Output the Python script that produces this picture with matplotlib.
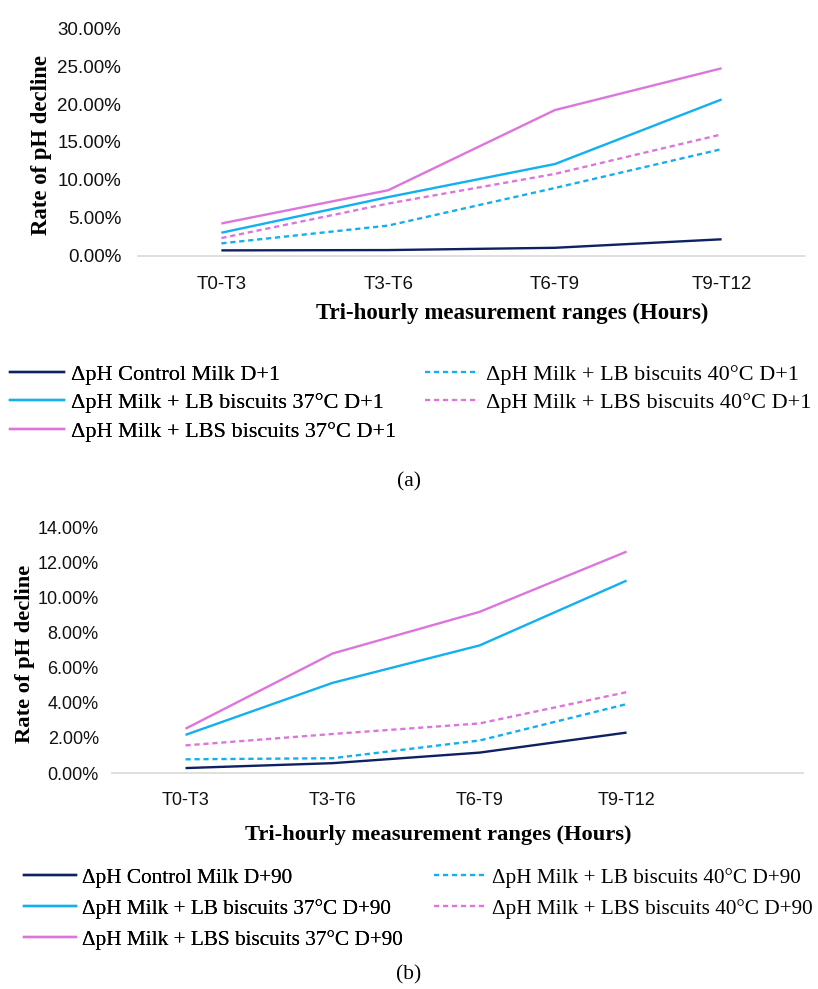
import matplotlib
matplotlib.use("Agg")
import matplotlib.pyplot as plt
from matplotlib.lines import Line2D
from matplotlib.ticker import PercentFormatter, MultipleLocator

# Category labels (tri-hourly ranges)
ranges = ["T0-T3", "T3-T6", "T6-T9", "T9-T12"]

# Panel (a) D+1, rate of pH decline in %
a_control = [0.74, 0.78, 1.08, 2.20]
a_lb37 = [3.06, 7.75, 12.10, 20.60]
a_lbs37 = [4.28, 8.65, 19.20, 24.70]
a_lb40 = [1.66, 4.00, 8.95, 14.06]
a_lbs40 = [2.36, 6.90, 10.80, 16.00]

# Panel (b) D+90, rate of pH decline in %
b_control = [0.28, 0.56, 1.16, 2.30]
b_lb37 = [2.17, 5.13, 7.26, 10.95]
b_lbs37 = [2.52, 6.80, 9.17, 12.60]
b_lb40 = [0.78, 0.84, 1.85, 3.92]
b_lbs40 = [1.57, 2.22, 2.82, 4.60]

NAVY = "#0E2162"
CYAN = "#12B0EE"
PINK = "#DC76DC"
AXIS_GRAY = "#D9D9D9"
DASH = (0, (2.2, 1.6))

SANS = "Liberation Sans"
SERIF = "Liberation Serif"

W, H = 818, 989
fig = plt.figure(figsize=(W / 100, H / 100), dpi=100)


# Convert pixel box to figure fraction
def px_axes(left, right, top, bottom):
    return fig.add_axes([left / W, 1 - bottom / H, (right - left) / W, (bottom - top) / H])


def draw_panel(ax, series, ymax, ystep, xmax, ypad, xpad, fsize):
    x = list(range(len(ranges)))
    for vals, color, style in series:
        ax.plot(x, vals, color=color, lw=1.7, linestyle=style, solid_capstyle="butt")
    ax.set_xlim(-0.5, xmax)
    ax.set_ylim(0, ymax)
    ax.yaxis.set_major_locator(MultipleLocator(ystep))
    ax.yaxis.set_major_formatter(PercentFormatter(decimals=2))
    ax.set_xticks(x)
    ax.set_xticklabels(ranges)
    for s in ["top", "right", "left"]:
        ax.spines[s].set_visible(False)
    ax.spines["bottom"].set_color(AXIS_GRAY)
    ax.spines["bottom"].set_linewidth(1.2)
    ax.tick_params(length=0, labelsize=fsize, labelcolor="#111111")
    ax.tick_params(axis="y", pad=ypad)
    ax.tick_params(axis="x", pad=xpad)
    for lab in ax.get_xticklabels() + ax.get_yticklabels():
        lab.set_fontfamily(SANS)


def make_legends(labels, y_top, col1_x, col2_x, fsize, spacing):
    styles = [(NAVY, "-"), (CYAN, "-"), (PINK, "-"), (CYAN, DASH), (PINK, DASH)]
    handles = [Line2D([], [], color=c, lw=1.7, linestyle=ls) for c, ls in styles]
    kw = dict(frameon=False, prop={"family": SERIF, "size": fsize}, handlelength=2.45,
              handletextpad=0.3, labelspacing=spacing, borderpad=0, borderaxespad=0,
              loc="upper left")
    leg1 = fig.legend(handles[:3], labels[:3], bbox_to_anchor=(col1_x / W, 1 - y_top / H), **kw)
    fig.add_artist(leg1)
    fig.legend(handles[3:], labels[3:], bbox_to_anchor=(col2_x / W, 1 - y_top / H), **kw)


# ---- Panel (a) ----
ax_a = px_axes(138, 805, 28, 256)
draw_panel(ax_a, [(a_control, NAVY, "-"), (a_lb37, CYAN, "-"), (a_lbs37, PINK, "-"),
                  (a_lb40, CYAN, DASH), (a_lbs40, PINK, DASH)],
           30, 5, 3.5, 12, 14.5, 13.5)
fig.text(42 / W, 1 - 145 / H, "Rate of pH decline", rotation=90, ha="center", va="center",
         family=SERIF, weight="bold", size=16.4)
fig.text(512 / W, 1 - 313 / H, "Tri-hourly measurement ranges (Hours)", ha="center", va="center",
         family=SERIF, weight="bold", size=16.5)
make_legends(["ΔpH Control Milk D+1", "ΔpH Milk + LB biscuits 37°C D+1",
              "ΔpH Milk + LBS biscuits 37°C D+1", "ΔpH Milk + LB biscuits 40°C D+1",
              "ΔpH Milk + LBS biscuits 40°C D+1"], 364, 10, 425, 16.0, 0.36)
fig.text(409 / W, 1 - 482 / H, "(a)", ha="center", va="center", family=SERIF, size=15.5)

# ---- Panel (b) ----
ax_b = px_axes(112, 803, 527, 773)
draw_panel(ax_b, [(b_control, NAVY, "-"), (b_lb37, CYAN, "-"), (b_lbs37, PINK, "-"),
                  (b_lb40, CYAN, DASH), (b_lbs40, PINK, DASH)],
           14, 2, 4.2, 9.5, 13.5, 13.0)
fig.text(25 / W, 1 - 654 / H, "Rate of pH decline", rotation=90, ha="center", va="center",
         family=SERIF, weight="bold", size=16.2)
fig.text(438 / W, 1 - 835 / H, "Tri-hourly measurement ranges (Hours)", ha="center", va="center",
         family=SERIF, weight="bold", size=16.2)
make_legends(["ΔpH Control Milk D+90", "ΔpH Milk + LB biscuits 37°C D+90",
              "ΔpH Milk + LBS biscuits 37°C D+90", "ΔpH Milk + LB biscuits 40°C D+90",
              "ΔpH Milk + LBS biscuits 40°C D+90"], 868, 24, 434, 15.3, 0.52)
fig.text(409 / W, 1 - 975 / H, "(b)", ha="center", va="center", family=SERIF, size=15.5)

fig.savefig("out.png", dpi=100)
